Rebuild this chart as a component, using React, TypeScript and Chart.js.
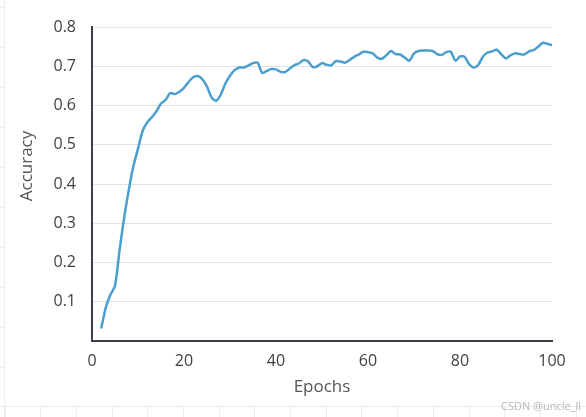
import React, { useEffect, useRef } from "react";
import { Chart, registerables } from "chart.js";

Chart.register(...registerables);

const epochs: number[] = [
  2, 3, 4, 5, 6, 7, 8, 9, 10, 11, 12, 13, 14, 15, 16, 17, 18, 19, 20, 21,
  22, 23, 24, 25, 26, 27, 28, 29, 30, 31, 32, 33, 34, 35, 36, 37, 38, 39, 40, 41,
  42, 43, 44, 45, 46, 47, 48, 49, 50, 51, 52, 53, 54, 55, 56, 57, 58, 59, 60, 61,
  62, 63, 64, 65, 66, 67, 68, 69, 70, 71, 72, 73, 74, 75, 76, 77, 78, 79, 80, 81,
  82, 83, 84, 85, 86, 87, 88, 89, 90, 91, 92, 93, 94, 95, 96, 97, 98, 99, 100,
];

const accuracy: number[] = [
  0.032, 0.085, 0.118, 0.14, 0.232, 0.315, 0.385, 0.445, 0.49, 0.535,
  0.557, 0.57, 0.585, 0.605, 0.614, 0.632, 0.629, 0.635, 0.645, 0.66,
  0.672, 0.675, 0.667, 0.648, 0.62, 0.612, 0.628, 0.656, 0.676, 0.69,
  0.697, 0.697, 0.702, 0.708, 0.709, 0.683, 0.688, 0.693, 0.692, 0.686,
  0.685, 0.694, 0.703, 0.707, 0.716, 0.712, 0.698, 0.7, 0.708, 0.704,
  0.702, 0.713, 0.712, 0.709, 0.716, 0.724, 0.73, 0.737, 0.736, 0.733,
  0.722, 0.719, 0.728, 0.739, 0.731, 0.73, 0.722, 0.714, 0.733, 0.739,
  0.74, 0.74, 0.739, 0.731, 0.729, 0.736, 0.737, 0.714, 0.725, 0.724,
  0.705, 0.697, 0.704, 0.725, 0.735, 0.738, 0.742, 0.73, 0.72, 0.728,
  0.733, 0.731, 0.73, 0.738, 0.741, 0.75, 0.76, 0.757, 0.754,
];

const xTitle = "Epochs";
const yTitle = "Accuracy";
const watermark = "CSDN @uncle_ll";

const FONT = "'Open Sans', Roboto, sans-serif";

const backgroundPlugin = {
  id: "bgGrid",
  beforeDraw(chart: any) {
    const { ctx, width, height } = chart;
    ctx.save();
    ctx.fillStyle = "#ffffff";
    ctx.fillRect(0, 0, width, height);
    ctx.strokeStyle = "#ececec";
    ctx.lineWidth = 1;
    ctx.beginPath();
    ctx.moveTo(4.5, 0);
    ctx.lineTo(4.5, height);
    for (let y = 7.5; y < 400; y += 40) {
      ctx.moveTo(0, y);
      ctx.lineTo(4.5, y);
    }
    ctx.moveTo(0, 406.5);
    ctx.lineTo(width, 406.5);
    for (let x = 4.5; x < width; x += 35.7) {
      const xx = Math.round(x) + 0.5;
      ctx.moveTo(xx, 406.5);
      ctx.lineTo(xx, height);
    }
    ctx.stroke();
    ctx.restore();
  },
  afterDraw(chart: any) {
    const { ctx } = chart;
    ctx.save();
    ctx.font = "17px " + FONT;
    ctx.fillStyle = "#555555";
    ctx.textAlign = "center";
    ctx.textBaseline = "middle";
    ctx.translate(27, 166);
    ctx.rotate(-Math.PI / 2);
    ctx.fillText(yTitle, 0, 0);
    ctx.restore();

    ctx.save();
    ctx.font = "11px " + FONT;
    ctx.fillStyle = "#b8b8b8";
    ctx.textAlign = "right";
    ctx.textBaseline = "middle";
    ctx.fillText(watermark, 581, 407);
    ctx.restore();
  },
};

export default function App() {
  const canvasRef = useRef<HTMLCanvasElement | null>(null);

  useEffect(() => {
    if (!canvasRef.current) return;
    const chart = new Chart(canvasRef.current, {
      type: "line",
      data: {
        datasets: [
          {
            data: epochs.map((e, i) => ({ x: e, y: accuracy[i] })),
            borderColor: "#4a9fcf",
            borderWidth: 2.5,
            pointRadius: 0,
            tension: 0.25,
            fill: false,
          },
        ],
      },
      options: {
        animation: false,
        responsive: false,
        maintainAspectRatio: false,
        layout: { padding: { left: 0, top: 27, right: 34, bottom: 0 } },
        plugins: {
          legend: { display: false },
          tooltip: { enabled: false },
        },
        scales: {
          x: {
            type: "linear",
            min: 0,
            max: 100,
            afterFit(scale: any) {
              scale.height = 76;
            },
            ticks: {
              stepSize: 20,
              padding: 11,
              color: "#3c3f44",
              font: { family: FONT, size: 16 },
            },
            grid: { display: false, drawTicks: false },
            border: { display: true, color: "#3a3f4a", width: 2 },
            title: {
              display: true,
              text: xTitle,
              color: "#555555",
              font: { family: FONT, size: 17 },
              padding: { top: 0, bottom: 20 },
            },
          },
          y: {
            min: 0,
            max: 0.8,
            afterFit(scale: any) {
              scale.width = 92;
            },
            ticks: {
              stepSize: 0.1,
              padding: 16,
              color: "#3c3f44",
              font: { family: FONT, size: 16 },
              callback: (v: any) => (Number(v) === 0 ? "" : Number(v).toFixed(1)),
            },
            grid: { color: "#e2e2e2", lineWidth: 1, drawTicks: false },
            border: { display: true, color: "#3a3f4a", width: 2 },
            title: { display: false },
          },
        },
      },
      plugins: [backgroundPlugin],
    });
    return () => chart.destroy();
  }, []);

  return (
    <div style={{ position: "absolute", left: 0, top: 0, width: 586, height: 417 }}>
      <canvas ref={canvasRef} width={586} height={417} />
    </div>
  );
}
